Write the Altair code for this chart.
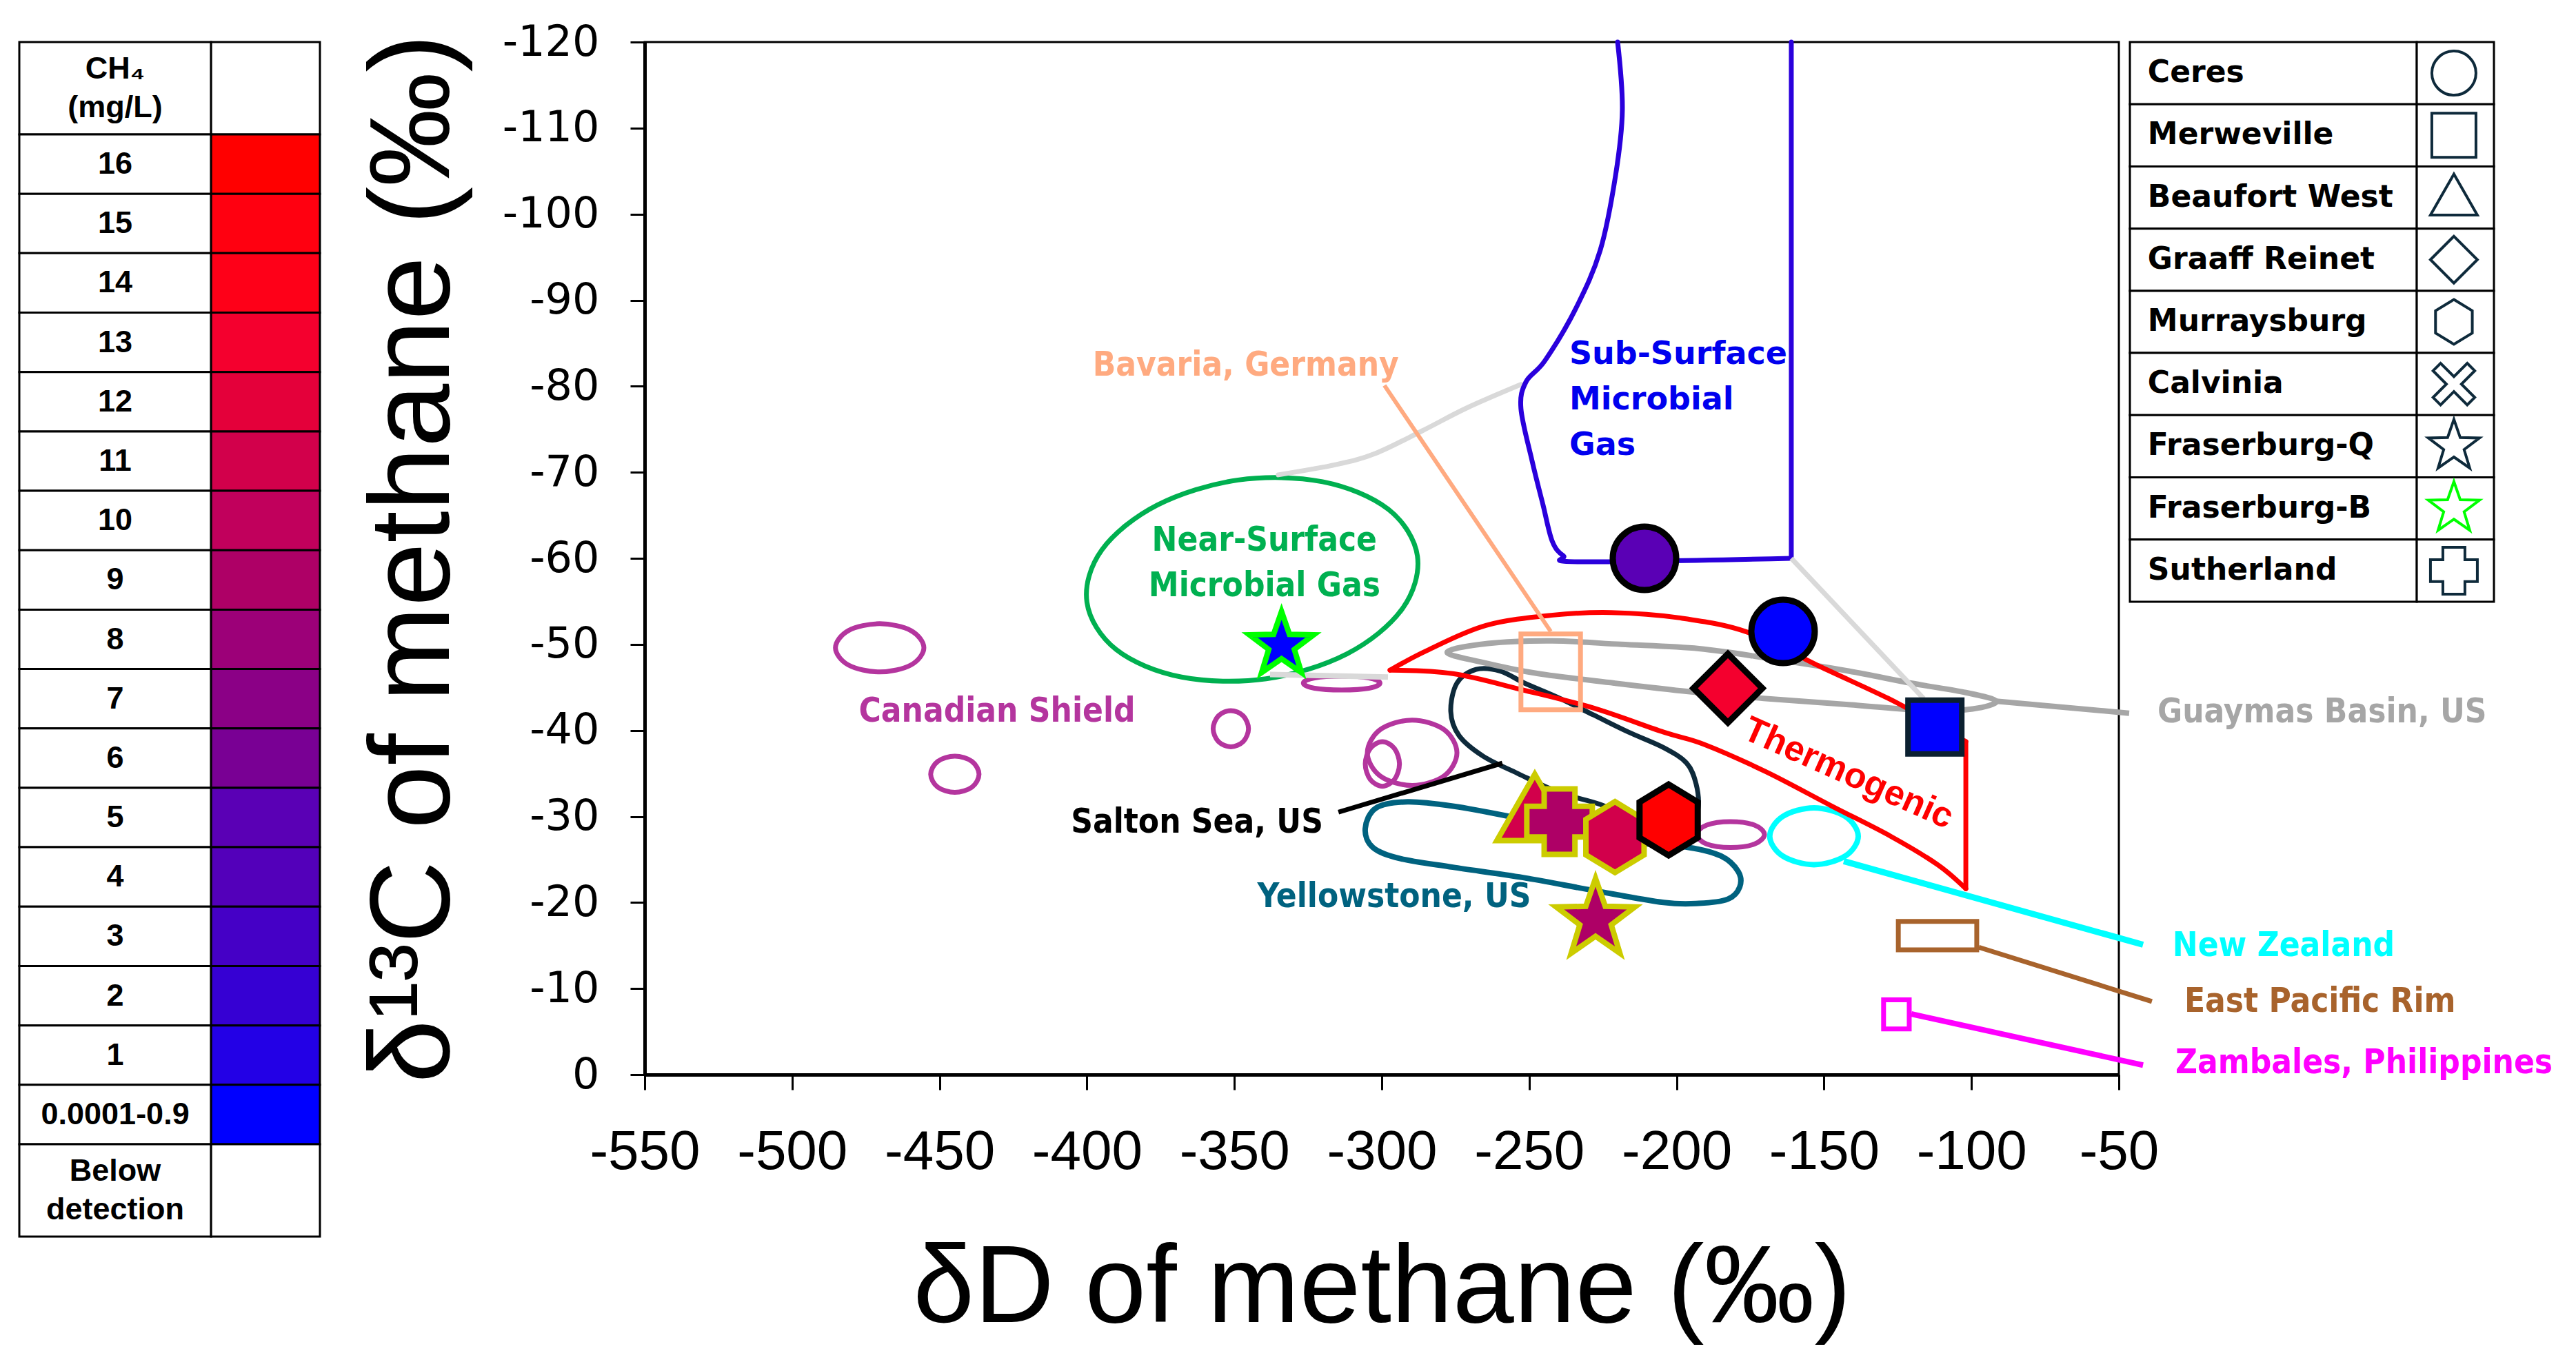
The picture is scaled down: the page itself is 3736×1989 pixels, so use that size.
import altair as alt
import pandas as pd

# ---------------- CH4 colour key (left table) ----------------
ch4_labels = ["CH₄\n(mg/L)", "16", "15", "14", "13", "12", "11", "10", "9", "8",
              "7", "6", "5", "4", "3", "2", "1", "0.0001-0.9", "Below\ndetection"]
ch4_colors = ["#FFFFFF", "#FF0000", "#FF0010", "#FE0018", "#F4002E", "#E4003A",
              "#D2004B", "#C1005C", "#AE0066", "#9C0078", "#8B0086", "#790094",
              "#5A00B5", "#5300BA", "#4500C6", "#3600D3", "#2300E6", "#0000FF", "#FFFFFF"]

# ---------------- site key (right table) ----------------
site_names = ["Ceres", "Merweville", "Beaufort West", "Graaff Reinet", "Murraysburg",
              "Calvinia", "Fraserburg-Q", "Fraserburg-B", "Sutherland"]

# ---------------- samples (dD, d13C of methane) ----------------
sample_site = ["Ceres", "Ceres", "Graaff Reinet", "Merweville", "Beaufort West",
               "Sutherland", "Murraysburg", "Murraysburg", "Fraserburg-Q", "Fraserburg-B"]
sample_dD = [-210.9, -163.9, -182.6, -112.4, -248.1, -239.7, -220.9, -202.7, -227.5, -334.0]
sample_d13C = [-60.0, -51.5, -44.9, -40.4, -30.5, -29.4, -27.6, -29.6, -18.0, -49.9]
sample_ch4 = ["5", "0.0001-0.9", "13", "0.0001-0.9", "11", "9", "11", "16", "9", "0.0001-0.9"]
sample_outline = ["black", "black", "black", "navy", "yellow", "yellow", "yellow", "black", "yellow", "green"]

# ---------------- reference fields (outlines) ----------------
near_surface_dD = [-287.9, -293.1, -311.8, -339.2, -367.9, -390.1, -400.0, -394.9, -376.1, -348.7, -320.1, -297.8]
near_surface_d13C = [-60.25, -54.1, -48.9, -46.0, -46.2, -49.4, -54.9, -61.0, -66.2, -69.1, -68.9, -65.7]

subsurface_dD = [-220.0, -218.4, -220.7, -225.9, -234.1, -244.6, -251.1, -252.8, -249.0, -245.3, -242.2, -238.4, -232.5, -161.1]
subsurface_d13C = [-120.0, -112.1, -104.5, -95.8, -89.1, -83.0, -80.5, -77.4, -71.3, -66.2, -62.0, -60.3, -59.6, -60.0]
subsurface_edge_dD = [-161.1, -161.1]
subsurface_edge_d13C = [-60.0, -120.0]

thermo_upper_dD = [-297.2, -284.6, -264.7, -242.0, -222.1, -199.4, -175.8, -150.6, -128.1, -113.6, -101.9]
thermo_upper_d13C = [-47.0, -49.3, -52.2, -53.4, -53.7, -53.1, -51.4, -47.3, -43.7, -41.0, -38.7]
thermo_right_dD = [-101.9, -101.9]
thermo_right_d13C = [-38.7, -21.6]
thermo_lower_dD = [-101.9, -111.5, -127.4, -147.3, -169.7, -190.8, -204.4, -228.2, -252.1, -275.9, -297.2]
thermo_lower_d13C = [-21.6, -24.4, -27.7, -31.2, -35.2, -38.4, -39.8, -42.6, -44.7, -46.6, -47.0]

guaymas_dD = [-277.8, -264.0, -242.2, -218.8, -192.4, -167.4, -141.7, -120.6, -101.9, -91.6, -99.6, -115.5, -141.7, -169.7, -195.5, -221.2, -246.9, -265.6]
guaymas_d13C = [-49.1, -50.1, -50.4, -50.0, -49.5, -48.3, -46.9, -45.5, -44.4, -43.4, -42.5, -42.3, -43.0, -43.7, -44.5, -45.5, -46.6, -47.9]

salton_dD = [-276.6, -274.5, -268.0, -259.8, -251.6, -240.1, -228.2, -216.3, -204.4, -196.6, -193.4, -192.7, -195.5, -202.5, -211.8, -225.9, -239.9, -253.9, -265.6, -273.8]
salton_d13C = [-42.2, -45.5, -47.1, -46.9, -45.5, -43.8, -41.8, -39.8, -38.0, -36.2, -33.8, -31.0, -28.6, -28.2, -29.4, -31.4, -32.8, -35.0, -37.0, -39.4]

yellowstone_dD = [-305.6, -301.9, -291.3, -275.9, -256.7, -235.2, -214.2, -195.9, -184.9, -179.1, -178.6, -182.6, -192.4, -204.4, -228.2, -252.1, -275.9, -293.7, -303.0]
yellowstone_d13C = [-28.6, -31.0, -31.7, -31.2, -30.0, -28.4, -27.0, -26.4, -25.4, -23.6, -21.8, -20.4, -19.9, -20.0, -21.4, -22.9, -24.1, -25.1, -26.4]

canadian_a_dD = [-455.3, -459.7, -470.3, -480.9, -485.3, -480.9, -470.3, -459.7]
canadian_a_d13C = [-49.6, -47.6, -46.8, -47.6, -49.6, -51.6, -52.4, -51.6]
canadian_b_dD = [-436.6, -439.0, -444.8, -450.6, -453.0, -450.6, -444.8, -439.0]
canadian_b_d13C = [-34.9, -33.4, -32.8, -33.4, -34.9, -36.4, -37.0, -36.4]
canadian_c_dD = [-345.2, -347.0, -351.2, -355.4, -357.2, -355.4, -351.2, -347.0]
canadian_c_d13C = [-40.2, -38.7, -38.1, -38.7, -40.2, -41.7, -42.3, -41.7]
canadian_d_dD = [-300.6, -304.4, -313.6, -322.8, -326.6, -322.8, -313.6, -304.4]
canadian_d_d13C = [-45.5, -44.9, -44.7, -44.9, -45.5, -46.1, -46.3, -46.1]
canadian_e_dD = [-274.5, -278.9, -289.7, -300.5, -304.9, -300.5, -289.7, -278.9]
canadian_e_d13C = [-37.4, -34.7, -33.6, -34.7, -37.4, -40.1, -41.2, -40.1]
canadian_f_dD = [-294.0, -295.7, -299.8, -303.9, -305.6, -303.9, -299.8, -295.7]
canadian_f_d13C = [-36.1, -34.3, -33.5, -34.3, -36.1, -37.9, -38.7, -37.9]
canadian_g_dD = [-170.2, -173.6, -181.7, -189.8, -193.2, -189.8, -181.7, -173.6]
canadian_g_d13C = [-27.9, -26.8, -26.4, -26.8, -27.9, -29.0, -29.4, -29.0]

new_zealand_dD = [-138.4, -142.8, -153.4, -164.0, -168.4, -164.0, -153.4, -142.8]
new_zealand_d13C = [-27.7, -25.4, -24.4, -25.4, -27.7, -30.0, -31.0, -30.0]

mixing_a_dD = [-335.1, -315.4, -302.1, -286.4, -271.0, -252.8]
mixing_a_d13C = [-69.7, -70.9, -72.2, -74.8, -77.5, -80.2]
mixing_b_dD = [-161.1, -116.2]
mixing_b_d13C = [-60.0, -43.7]
mixing_c_dD = [-337.9, -297.9]
mixing_c_d13C = [-46.5, -46.2]

bavaria_leader_dD = [-242.7, -299.1]
bavaria_leader_d13C = [-51.5, -80.1]
salton_leader_dD = [-259.1, -314.7]
salton_leader_d13C = [-36.2, -30.5]
guaymas_leader_dD = [-91.6, -46.5]
guaymas_leader_d13C = [-43.4, -42.0]
nz_leader_dD = [-143.3, -41.8]
nz_leader_d13C = [-24.8, -15.1]
epr_leader_dD = [-97.5, -38.8]
epr_leader_d13C = [-14.8, -8.5]
zambales_leader_dD = [-120.4, -41.8]
zambales_leader_d13C = [-7.05, -1.1]

box_names = ["bavaria", "epr", "zambales"]
box_dD_min = [-252.8, -124.8, -129.8]
box_dD_max = [-232.6, -98.2, -121.1]
box_d13C_min = [-51.2, -17.8, -8.7]
box_d13C_max = [-42.4, -14.5, -5.3]

label_text = ["Bavaria, Germany", "Near-Surface", "Microbial Gas", "Canadian Shield", "Salton Sea, US",
              "Yellowstone, US", "Guaymas Basin, US", "New Zealand", "East Pacific Rim", "Zambales, Philippines"]
label_dD = [-294.2, -339.8, -339.8, -430.5, -319.9, -295.8, -36.9, -31.8, -27.8, -30.8]
label_d13C = [-82.4, -62.1, -56.8, -42.2, -29.3, -20.7, -42.1, -15.0, -8.5, -1.4]
label_field = ["bavaria", "near_surface", "near_surface", "canadian", "salton_leader",
               "yellowstone", "guaymas", "nz", "epr", "zambales"]

sub_label_text = ["Sub-Surface", "Microbial", "Gas"]
sub_label_dD = [-236.4, -236.4, -236.4]
sub_label_d13C = [-83.7, -78.4, -73.1]

thermo_label_dD = [-141.7]
thermo_label_d13C = [-35.0]

# ---------------- styles ----------------
COLORS = {
    "near_surface": "#00B050", "subsurface": "#2A00DC", "thermogenic": "#FF0000",
    "guaymas": "#A6A6A6", "mixing": "#D9D9D9", "bavaria": "#FFAA80", "canadian": "#B4359E",
    "salton": "#0E2A3B", "salton_leader": "#000000", "yellowstone": "#00627F",
    "nz": "#00FFFF", "epr": "#A8632C", "zambales": "#FF00FF",
}
STAR = "M0,-1L0.235,-0.324L0.951,-0.309L0.38,0.124L0.588,0.809L0,0.4L-0.588,0.809L-0.38,0.124L-0.951,-0.309L-0.235,-0.324Z"
CROSS = "M-0.47,-1L0.47,-1L0.47,-0.47L1,-0.47L1,0.47L0.47,0.47L0.47,1L-0.47,1L-0.47,0.47L-1,0.47L-1,-0.47L-0.47,-0.47Z"
HEX = "M0,-1L0.82,-0.5L0.82,0.5L0,1L-0.82,0.5L-0.82,-0.5Z"
TRI = "M0,-1L1,0.75L-1,0.75Z"
XSH = "M0.552,-0.863L0.863,-0.552L0.311,0L0.863,0.552L0.552,0.863L0,0.311L-0.552,0.863L-0.863,0.552L-0.311,0L-0.863,-0.552L-0.552,-0.863L0,-0.311Z"
SITE_SHAPE = {"Ceres": "circle", "Merweville": "square", "Beaufort West": TRI, "Graaff Reinet": "diamond",
              "Murraysburg": HEX, "Calvinia": XSH, "Fraserburg-Q": STAR, "Fraserburg-B": STAR, "Sutherland": CROSS}
MARKER_SIZE = {"Ceres": 8464, "Merweville": 6084, "Beaufort West": 12100, "Graaff Reinet": 10000,
               "Murraysburg": 10600, "Calvinia": 8000, "Fraserburg-Q": 14400, "Fraserburg-B": 9600, "Sutherland": 9025}
LEGEND_SIZE = {"Ceres": 4096, "Merweville": 4096, "Beaufort West": 4624, "Graaff Reinet": 4624,
               "Murraysburg": 4225, "Calvinia": 4900, "Fraserburg-Q": 6084, "Fraserburg-B": 6084, "Sutherland": 4624}
EDGE_COLOR = {"black": "#000000", "navy": "#0B2030", "yellow": "#CCCC00", "green": "#00FF00"}
EDGE_WIDTH = {"black": 9, "navy": 8, "yellow": 8, "green": 8}
COND_FONT = "DejaVu Sans Condensed, Liberation Sans Narrow, sans-serif"

# ---------------- outline table ----------------
recs = []
def add(key, dD, d13C, color, width, kind):
    for i, (a, b) in enumerate(zip(dD, d13C)):
        recs.append({"key": key, "seq": i, "dD": a, "d13C": b, "color": COLORS[color], "w": width, "kind": kind})

add("near_surface", near_surface_dD, near_surface_d13C, "near_surface", 7, "closed")
add("guaymas", guaymas_dD, guaymas_d13C, "guaymas", 8, "closed")
add("yellowstone", yellowstone_dD, yellowstone_d13C, "yellowstone", 8, "closed")
add("salton", salton_dD, salton_d13C, "salton", 7, "closed")
for k, (a, b) in {"ca": (canadian_a_dD, canadian_a_d13C), "cb": (canadian_b_dD, canadian_b_d13C),
                  "cc": (canadian_c_dD, canadian_c_d13C), "cd": (canadian_d_dD, canadian_d_d13C),
                  "ce": (canadian_e_dD, canadian_e_d13C), "cf": (canadian_f_dD, canadian_f_d13C),
                  "cg": (canadian_g_dD, canadian_g_d13C)}.items():
    add(k, a, b, "canadian", 7, "closed")
add("nz", new_zealand_dD, new_zealand_d13C, "nz", 8, "closed")
add("mix_a", mixing_a_dD, mixing_a_d13C, "mixing", 7, "open")
add("sub", subsurface_dD, subsurface_d13C, "subsurface", 7, "open")
add("sub_edge", subsurface_edge_dD, subsurface_edge_d13C, "subsurface", 7, "open")
add("th_up", thermo_upper_dD, thermo_upper_d13C, "thermogenic", 7, "open")
add("th_r", thermo_right_dD, thermo_right_d13C, "thermogenic", 7, "open")
add("th_lo", thermo_lower_dD, thermo_lower_d13C, "thermogenic", 7, "open")
add("mix_b", mixing_b_dD, mixing_b_d13C, "mixing", 7, "straight")
add("mix_c", mixing_c_dD, mixing_c_d13C, "mixing", 8, "straight")
add("bav_l", bavaria_leader_dD, bavaria_leader_d13C, "bavaria", 6, "straight")
add("sal_l", salton_leader_dD, salton_leader_d13C, "salton_leader", 7, "straight")
add("gua_l", guaymas_leader_dD, guaymas_leader_d13C, "guaymas", 8, "straight")
add("nz_l", nz_leader_dD, nz_leader_d13C, "nz", 9, "straight")
add("epr_l", epr_leader_dD, epr_leader_d13C, "epr", 7, "straight")
add("zam_l", zambales_leader_dD, zambales_leader_d13C, "zambales", 8, "straight")
outlines = pd.DataFrame(recs)

# ---------------- main plot ----------------
PW, PH = 2138, 1498
xs = alt.Scale(domain=[-550, -50], nice=False, zero=False)
ys = alt.Scale(domain=[-120, 0], reverse=True, nice=False, zero=False)
xaxis = alt.Axis(values=list(range(-550, -49, 50)), title="δD of methane (‰)", grid=False,
                 labelFont="Liberation Sans", labelFontSize=80, labelColor="black", labelPadding=51,
                 labelExpr="datum.value + ''", labelFlush=False, labelOverlap=False, labelBound=False,
                 tickSize=22, tickWidth=3, tickColor="black", domainWidth=5, domainColor="black",
                 titleFont="Liberation Sans", titleFontSize=160, titleFontWeight="normal",
                 titleColor="black", titlePadding=80)
yaxis = alt.Axis(values=list(range(-120, 1, 10)), title="δ¹³C of methane (‰)", grid=False,
                 labelFont="DejaVu Sans", labelFontSize=62, labelColor="black", labelPadding=45,
                 labelExpr="datum.value + ''", labelFlush=False, labelOverlap=False, labelBound=False,
                 tickSize=21, tickWidth=3, tickColor="black", domainWidth=5, domainColor="black",
                 titleFont="Liberation Sans", titleFontSize=166, titleFontWeight="normal",
                 titleColor="black", titlePadding=50)

def X(f):
    return alt.X(f, type="quantitative", scale=xs, axis=xaxis)

def Y(f):
    return alt.Y(f, type="quantitative", scale=ys, axis=yaxis)

INTERP = {"closed": "cardinal-closed", "open": "cardinal", "straight": "linear"}
line_layers = []
for kind in ["closed", "open", "straight"]:
    for w in sorted(outlines.loc[outlines.kind == kind, "w"].unique()):
        line_layers.append(
            alt.Chart(outlines).transform_filter(
                f"datum.kind == '{kind}' && datum.w == {int(w)}"
            ).mark_line(interpolate=INTERP[kind], strokeWidth=int(w), strokeJoin="round",
                        strokeCap="round" if kind != "straight" else "butt").encode(
                x=X("dD"), y=Y("d13C"), detail="key:N", order="seq:Q",
                stroke=alt.Stroke("color:N", scale=None)))

boxes = pd.DataFrame({"key": box_names, "x0": box_dD_min, "x1": box_dD_max, "y0": box_d13C_min, "y1": box_d13C_max})
boxes["color"] = boxes.key.map(COLORS)
box_layer = alt.Chart(boxes).mark_rect(fillOpacity=0, strokeWidth=7).encode(
    x=X("x0"), x2="x1:Q", y=Y("y0"), y2="y1:Q", stroke=alt.Stroke("color:N", scale=None))

labels = pd.DataFrame({"text": label_text, "dD": label_dD, "d13C": label_d13C, "field": label_field})
labels["color"] = labels.field.map(COLORS)
ALIGN = {"Bavaria, Germany": "right", "Salton Sea, US": "right", "Guaymas Basin, US": "left",
         "New Zealand": "left", "East Pacific Rim": "left", "Zambales, Philippines": "left"}
labels["align"] = labels.text.map(lambda t: ALIGN.get(t, "center"))

def label_layer(al):
    return alt.Chart(labels).transform_filter(f"datum.align == '{al}'").mark_text(
        align=al, baseline="middle", font=COND_FONT, fontWeight="bold", fontSize=49).encode(
        x=X("dD"), y=Y("d13C"), text="text:N", color=alt.Color("color:N", scale=None))

sub_df = pd.DataFrame({"text": sub_label_text, "dD": sub_label_dD, "d13C": sub_label_d13C})
sub_layer = alt.Chart(sub_df).mark_text(align="left", baseline="middle", font="DejaVu Sans",
                                        fontWeight="bold", fontSize=46, color="#0000EE").encode(
    x=X("dD"), y=Y("d13C"), text="text:N")

th_df = pd.DataFrame({"text": ["Thermogenic"], "dD": thermo_label_dD, "d13C": thermo_label_d13C})
th_layer = alt.Chart(th_df).mark_text(align="center", baseline="middle", font="Liberation Sans",
                                      fontWeight="bold", fontSize=52, angle=24, color="#FF0000").encode(
    x=X("dD"), y=Y("d13C"), text="text:N")

ch4_to_color = dict(zip(ch4_labels, ch4_colors))
samp = pd.DataFrame({"site": sample_site, "dD": sample_dD, "d13C": sample_d13C,
                     "ch4": sample_ch4, "outline": sample_outline})
samp["fill"] = samp.ch4.map(ch4_to_color)
samp["shape"] = samp.site.map(SITE_SHAPE)
samp["size"] = samp.site.map(MARKER_SIZE)
samp["edge"] = samp.outline.map(EDGE_COLOR)
samp["idx"] = list(range(len(samp)))

# markers drawn one layer per sample so that the stacking order follows the data order
marker_layers = []
for i, row in samp.iterrows():
    marker_layers.append(
        alt.Chart(samp).transform_filter(f"datum.idx == {i}").mark_point(
            filled=True, opacity=1, strokeJoin="miter", strokeWidth=EDGE_WIDTH[row["outline"]]).encode(
            x=X("dD"), y=Y("d13C"),
            shape=alt.Shape("shape:N", scale=None), size=alt.Size("size:Q", scale=None),
            fill=alt.Fill("fill:N", scale=None), stroke=alt.Stroke("edge:N", scale=None)))

main = alt.layer(*line_layers, box_layer,
                 label_layer("left"), label_layer("center"), label_layer("right"),
                 sub_layer, th_layer, *marker_layers).properties(
    width=PW, height=PH, view=alt.ViewBackground(stroke="black", strokeWidth=3))

# ---------------- left table (CH4 colour key) ----------------
LEFT_PANEL_W, TABLE_W, LEFT_H = 891, 436, 1733
weights = [1.555] + [1.0] * (len(ch4_labels) - 2) + [1.555]
tops, acc = [], 0.0
for w in weights:
    tops.append(acc)
    acc += w
left_df = pd.DataFrame({"label": ch4_labels, "color": ch4_colors, "top": tops,
                        "bottom": [t + w for t, w in zip(tops, weights)]})
left_df["mid"] = (left_df["top"] + left_df["bottom"]) / 2
left_df["two"] = left_df["label"].str.contains("\n")
lx = alt.Scale(domain=[0, LEFT_PANEL_W / TABLE_W], nice=False, zero=False)
ly = alt.Scale(domain=[0, acc], reverse=True, nice=False, zero=False)
lbase = alt.Chart(left_df)
l_cells = lbase.transform_calculate(c0="0", c1="0.638").mark_rect(
    fill="white", stroke="black", strokeWidth=3).encode(
    x=alt.X("c0:Q", scale=lx, axis=None), x2="c1:Q",
    y=alt.Y("top:Q", scale=ly, axis=None), y2="bottom:Q")
c_cells = lbase.transform_calculate(c0="0.638", c1="1").mark_rect(
    stroke="black", strokeWidth=3).encode(
    x=alt.X("c0:Q", scale=lx, axis=None), x2="c1:Q",
    y=alt.Y("top:Q", scale=ly, axis=None), y2="bottom:Q",
    fill=alt.Fill("color:N", scale=None))
l_text1 = lbase.transform_filter("!datum.two").transform_calculate(cx="0.319").mark_text(
    font="Liberation Sans", fontWeight="bold", fontSize=45,
    align="center", baseline="middle", color="black").encode(
    x=alt.X("cx:Q", scale=lx, axis=None), y=alt.Y("mid:Q", scale=ly, axis=None), text="label:N")
l_text2 = lbase.transform_filter("datum.two").transform_calculate(cx="0.319").mark_text(
    font="Liberation Sans", fontWeight="bold", fontSize=45, lineBreak="\n", lineHeight=56, dy=-28,
    align="center", baseline="middle", color="black").encode(
    x=alt.X("cx:Q", scale=lx, axis=None), y=alt.Y("mid:Q", scale=ly, axis=None), text="label:N")
left = alt.layer(l_cells, c_cells, l_text1, l_text2).properties(width=LEFT_PANEL_W, height=LEFT_H)

# ---------------- right table (site key) ----------------
RW, RH = 528, 812
right_df = pd.DataFrame({"site": site_names, "row": list(range(len(site_names)))})
right_df["row2"] = right_df["row"] + 1
right_df["mid"] = right_df["row"] + 0.5
right_df["shape"] = right_df.site.map(SITE_SHAPE)
right_df["size"] = right_df.site.map(LEGEND_SIZE)
right_df["edge"] = right_df.site.map(lambda s: "#00FF00" if s == "Fraserburg-B" else "#0E2A3B")
rx = alt.Scale(domain=[0, 1], nice=False, zero=False)
ry = alt.Scale(domain=[0, len(site_names)], reverse=True, nice=False, zero=False)
rbase = alt.Chart(right_df)
r_cells1 = rbase.transform_calculate(c0="0", c1="0.788").mark_rect(
    fill="white", stroke="black", strokeWidth=3).encode(
    x=alt.X("c0:Q", scale=rx, axis=None), x2="c1:Q",
    y=alt.Y("row:Q", scale=ry, axis=None), y2="row2:Q")
r_cells2 = rbase.transform_calculate(c0="0.788", c1="1").mark_rect(
    fill="white", stroke="black", strokeWidth=3).encode(
    x=alt.X("c0:Q", scale=rx, axis=None), x2="c1:Q",
    y=alt.Y("row:Q", scale=ry, axis=None), y2="row2:Q")
r_text = rbase.transform_calculate(tx="0.049").mark_text(
    font="DejaVu Sans", fontWeight="bold", fontSize=44, align="left", baseline="middle",
    color="black").encode(
    x=alt.X("tx:Q", scale=rx, axis=None), y=alt.Y("mid:Q", scale=ry, axis=None), text="site:N")
r_sym = rbase.transform_calculate(sx="0.89").mark_point(filled=False, opacity=1, strokeWidth=4).encode(
    x=alt.X("sx:Q", scale=rx, axis=None), y=alt.Y("mid:Q", scale=ry, axis=None),
    shape=alt.Shape("shape:N", scale=None), size=alt.Size("size:Q", scale=None),
    stroke=alt.Stroke("edge:N", scale=None))
right = alt.layer(r_cells1, r_cells2, r_text, r_sym).properties(width=RW, height=RH)

chart = alt.hconcat(left, main, right, spacing=16, bounds="flush").properties(
    padding={"left": 18, "top": 20, "right": 0, "bottom": 0}, background="white"
).configure_view(strokeWidth=0)

chart.save("out.html", embed_options={"renderer": "svg", "actions": False})
